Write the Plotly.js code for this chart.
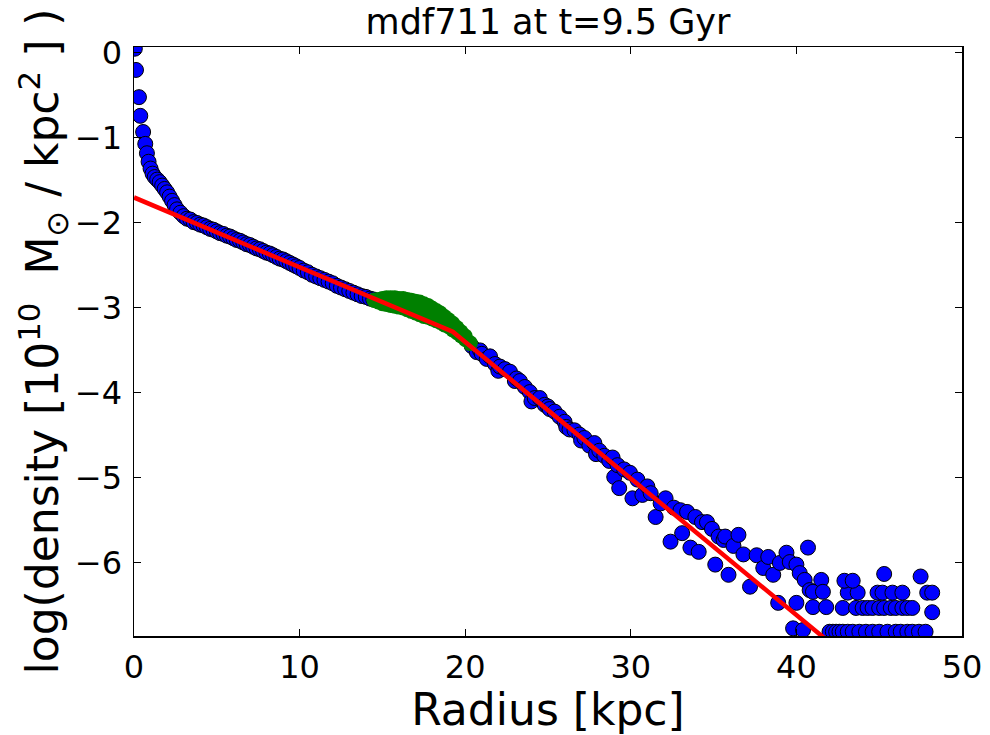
<!DOCTYPE html>
<html>
<head>
<meta charset="utf-8">
<script src="https://cdn.plot.ly/plotly-3.0.1.min.js"></script>
<style>html,body{margin:0;padding:0;background:#fff;}#chart{width:990px;height:735px;}</style>
</head>
<body>
<div id="chart"></div>
<script>
// Blue: measured surface-density profile
const radius = [0.05,0.12,0.30,0.38,0.55,0.68,0.78,0.88,1.00,1.12,1.25,1.40,1.55,1.70,1.85,2.00,2.15,2.30,2.45,2.60,2.80,3.00,3.20,3.40,3.60,3.80,4.00,4.20,4.40,4.60,4.80,5.00,5.20,5.40,5.60,5.80,6.00,6.20,6.40,6.60,6.80,7.00,7.20,7.40,7.60,7.80,8.00,8.20,8.40,8.60,8.80,9.00,9.20,9.40,9.60,9.80,10.00,10.25,10.50,10.75,11.00,11.25,11.50,11.75,12.00,12.25,12.50,12.75,13.00,13.25,13.50,13.75,14.00,14.25,14.45,
  20.4,20.7,20.9,21.0,21.3,21.5,21.8,22.0,22.1,22.4,22.7,23.0,23.1,23.3,23.6,23.9,24.0,24.2,24.5,24.8,25.0,25.1,25.4,25.7,26.0,26.1,26.3,26.6,26.9,27.0,27.2,27.5,27.8,27.9,28.1,28.4,28.7,28.9,29.0,29.3,29.2,29.6,29.95,30.1,
  30.4,30.7,31.0,31.2,31.5,31.8,32.1,32.4,32.6,33.0,33.1,33.4,33.6,33.9,34.1,34.3,34.6,34.9,35.1,35.3,35.6,35.7,35.9,36.2,36.5,36.8,37.2,37.6,38.0,38.3,38.6,38.9,39.0,39.4,39.6,39.8,40.0,40.0,40.2,40.4,40.5,40.7,40.8,41.0,41.0,41.5,41.6,41.8,
  42.0,42.2,42.4,42.6,42.8,43.1,43.4,43.8,44.2,44.6,45.0,45.5,46.0,46.3,46.7,47.0,47.4,47.8,
  42.8,43.6,44.0,44.3,44.6,45.0,45.3,45.7,46.0,46.4,46.7,47.0,
  43.1,43.7,44.9,45.2,45.8,46.4,47.9,48.2,
  42.9,43.4,45.3,47.5,48.2];
const logDensity = [0.05,-0.20,-0.52,-0.74,-0.93,-1.07,-1.18,-1.28,-1.36,-1.42,-1.46,-1.49,-1.52,-1.56,-1.60,-1.64,-1.69,-1.74,-1.79,-1.84,-1.88,-1.92,-1.95,-1.96,-1.99,-2.00,-2.02,-2.03,-2.05,-2.07,-2.08,-2.10,-2.12,-2.13,-2.15,-2.16,-2.18,-2.20,-2.21,-2.23,-2.25,-2.26,-2.28,-2.30,-2.31,-2.33,-2.35,-2.36,-2.38,-2.40,-2.42,-2.43,-2.45,-2.47,-2.49,-2.51,-2.53,-2.56,-2.58,-2.61,-2.63,-2.65,-2.67,-2.69,-2.71,-2.74,-2.76,-2.78,-2.80,-2.82,-2.84,-2.86,-2.87,-2.89,-2.90,
  -3.45,-3.52,-3.50,-3.54,-3.60,-3.57,-3.66,-3.74,-3.69,-3.72,-3.75,-3.86,-3.83,-3.86,-3.93,-3.99,-4.10,-4.06,-4.06,-4.14,-4.16,-4.19,-4.22,-4.28,-4.34,-4.40,-4.43,-4.44,-4.49,-4.56,-4.53,-4.62,-4.59,-4.72,-4.68,-4.74,-4.80,-4.76,-4.99,-5.12,-4.85,-4.90,-4.94,-5.24,
  -5.02,-5.20,-5.10,-5.18,-5.46,-5.30,-5.24,-5.75,-5.35,-5.38,-5.65,-5.40,-5.82,-5.46,-5.87,-5.52,-5.52,-5.60,-6.02,-5.69,-5.73,-5.69,-6.14,-5.80,-5.67,-5.90,-6.28,-5.91,-6.06,-5.93,-6.14,-6.47,-6.00,-5.88,-5.99,-6.77,-6.02,-6.47,-6.12,-6.79,-6.20,-5.82,-6.32,-6.34,-6.52,-6.20,-6.34,-6.52,
  -6.81,-6.81,-6.81,-6.81,-6.81,-6.81,-6.81,-6.81,-6.81,-6.81,-6.81,-6.81,-6.81,-6.81,-6.81,-6.81,-6.81,-6.81,
  -6.53,-6.53,-6.53,-6.53,-6.53,-6.53,-6.53,-6.53,-6.53,-6.53,-6.53,-6.53,
  -6.35,-6.35,-6.35,-6.35,-6.35,-6.35,-6.35,-6.35,
  -6.21,-6.21,-6.13,-6.16,-6.58];

// Green: points excluded from the fit (bump region)
const greenRadius = [14.5,14.75,15.0,15.25,15.5,15.75,16.0,16.25,16.5,16.75,17.0,17.25,17.5,17.75,18.0,18.25,18.5,18.75,19.0,19.25,19.5,19.75,20.0,20.3,
  14.5,14.75,15.0,15.25,15.5,15.75,16.0,16.25,16.5,16.75,17.0,17.25,17.5,17.75,18.0,18.25,18.5,18.75,19.0,19.25,19.5,19.75,20.0,20.3];
const greenDensity = [-2.91,-2.90,-2.89,-2.88,-2.88,-2.88,-2.89,-2.89,-2.90,-2.91,-2.92,-2.93,-2.95,-2.97,-3.00,-3.03,-3.06,-3.10,-3.14,-3.18,-3.23,-3.28,-3.33,-3.42,
  -2.91,-2.93,-2.95,-2.96,-2.97,-2.98,-2.99,-3.00,-3.02,-3.04,-3.06,-3.08,-3.10,-3.11,-3.13,-3.15,-3.17,-3.20,-3.22,-3.26,-3.29,-3.33,-3.37,-3.41];

// Red: broken exponential fit
const fitRadius = [0, 19.25, 50];
const fitDensity = [-1.70, -3.28, -8.22];

const xTicks = [0, 10, 20, 30, 40, 50];
const yTicks = [0, -1, -2, -3, -4, -5, -6];

const FONT = 'DejaVu Sans, sans-serif';

const traces = [
  {x: radius, y: logDensity, type: 'scatter', mode: 'markers',
   marker: {color: '#0000ff', size: 15, line: {color: '#000000', width: 1}},
   hoverinfo: 'x+y'},
  {x: greenRadius, y: greenDensity, type: 'scatter', mode: 'markers',
   marker: {color: '#008000', size: 15, line: {color: '#008000', width: 0}}},
  {x: fitRadius, y: fitDensity, type: 'scatter', mode: 'lines',
   line: {color: '#ff0000', width: 4.5}}
];

const axisCommon = {
  showgrid: false, zeroline: false, showline: true, linecolor: '#000', linewidth: 1.5,
  mirror: 'allticks', ticks: 'inside', ticklen: 7, tickwidth: 1, tickcolor: '#000',
  tickfont: {family: FONT, size: 32, color: '#000'}
};

const layout = {
  width: 990, height: 735,
  margin: {l: 134, r: 28, t: 47, b: 99},
  paper_bgcolor: '#fff', plot_bgcolor: '#fff',
  showlegend: false,
  title: {text: 'mdf711 at t=9.5 Gyr', font: {family: FONT, size: 35, color: '#000'},
          x: 0.5, xref: 'paper', xanchor: 'center', y: 0.97, yref: 'container', yanchor: 'middle'},
  xaxis: Object.assign({}, axisCommon, {
    range: [0, 50], tickvals: xTicks, ticktext: xTicks.map(String), ticklabelstandoff: 2,
    title: {text: 'Radius [kpc]', font: {family: FONT, size: 44, color: '#000'}, standoff: 4}
  }),
  yaxis: Object.assign({}, axisCommon, {
    range: [-6.86, 0.07], tickvals: yTicks, ticklabelstandoff: 4,
    title: {text: 'log(density [10<sup>10</sup>\u00a0\u00a0M<sub>\u2299</sub> / kpc<sup>2</sup> ] )',
            font: {family: FONT, size: 44, color: '#000'}, standoff: 2}
  })
};

Plotly.newPlot('chart', traces, layout, {staticPlot: true, displayModeBar: false});
</script>
</body>
</html>
